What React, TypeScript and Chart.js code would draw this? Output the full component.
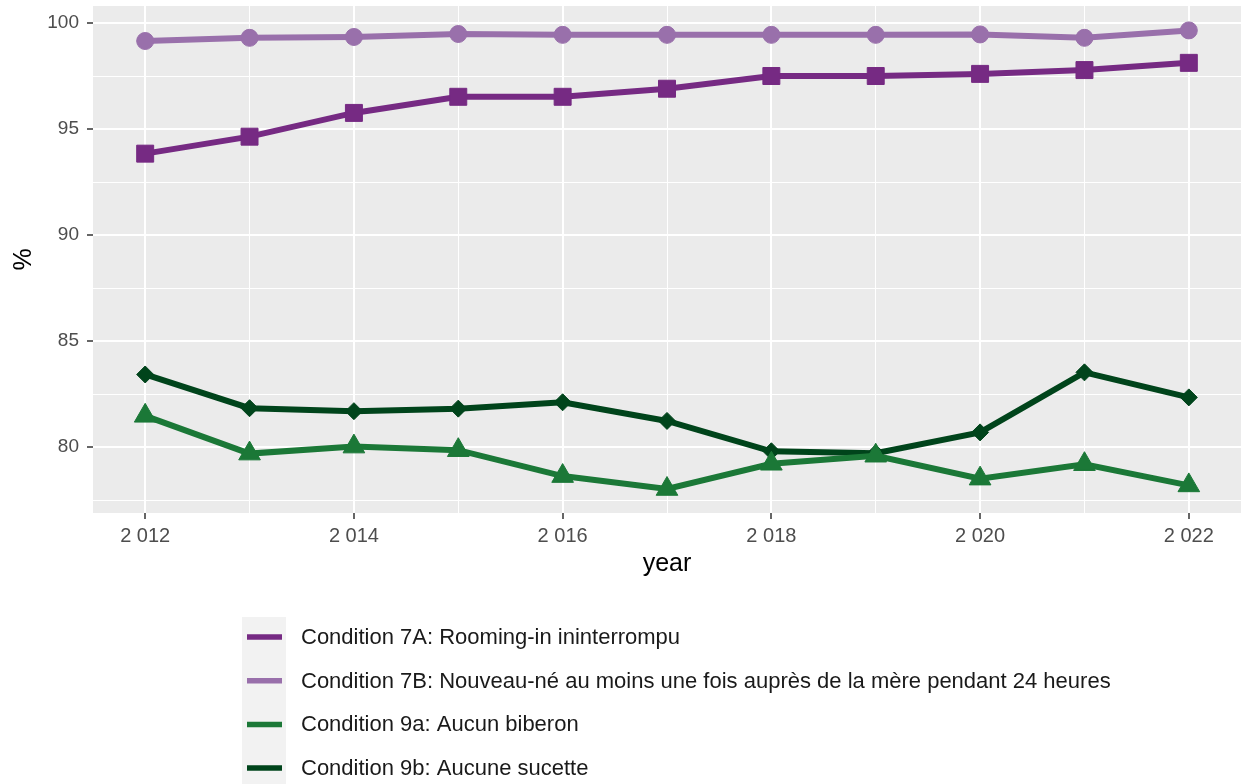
import React, { useEffect, useRef } from "react";
import { Chart, registerables } from "chart.js";

Chart.register(...registerables);

const years = [2012, 2013, 2014, 2015, 2016, 2017, 2018, 2019, 2020, 2021, 2022];
const cond7A = [93.84, 94.64, 95.76, 96.52, 96.52, 96.9, 97.5, 97.5, 97.6, 97.78, 98.12];
const cond7B = [99.15, 99.3, 99.34, 99.48, 99.44, 99.44, 99.44, 99.44, 99.46, 99.3, 99.65];
const cond9a = [81.48, 79.7, 80.03, 79.86, 78.64, 78.03, 79.22, 79.6, 78.52, 79.2, 78.2];
const cond9b = [83.43, 81.84, 81.7, 81.82, 82.12, 81.24, 79.81, 79.72, 80.7, 83.53, 82.35];
const labels = [
  "Condition 7A: Rooming-in ininterrompu",
  "Condition 7B: Nouveau-né au moins une fois auprès de la mère pendant 24 heures",
  "Condition 9a: Aucun biberon",
  "Condition 9b: Aucune sucette",
];
const colors = ["#762a83", "#9970ab", "#1b7837", "#00441b"];
const pointStyles = ["rect", "circle", "triangle", "rectRot"];
const pointRadii = [12, 8.5, 12.5, 8.5];
const yTicks = [77.5, 80, 82.5, 85, 87.5, 90, 92.5, 95, 97.5, 100];
const yMajor = [80, 85, 90, 95, 100];
const xTicks = [2012, 2013, 2014, 2015, 2016, 2017, 2018, 2019, 2020, 2021, 2022];
const xMajor = [2012, 2014, 2016, 2018, 2020, 2022];

const FONT = "'Liberation Sans', Arial, sans-serif";

const fmt = (v: number) => String(v).replace(/\B(?=(\d{3})+(?!\d))/g, " ");

const bgPlugin = {
  id: "panelBg",
  beforeDraw(chart: any) {
    const { ctx, chartArea } = chart;
    ctx.save();
    ctx.fillStyle = "#ebebeb";
    ctx.fillRect(chartArea.left, chartArea.top, chartArea.right - chartArea.left, chartArea.bottom - chartArea.top);
    ctx.restore();
  },
};

const legendPlugin = {
  id: "customLegend",
  afterDraw(chart: any) {
    const { ctx } = chart;
    const ds = chart.data.datasets;
    const keyX = 242;
    const keyW = 44;
    const top = 617;
    const rowH = 43.7;
    ctx.save();
    ctx.fillStyle = "#f2f2f2";
    ctx.fillRect(keyX, top, keyW, 784 - top);
    ds.forEach((d: any, i: number) => {
      const cy = top + 20 + i * rowH;
      ctx.strokeStyle = d.borderColor;
      ctx.lineWidth = 5.5;
      ctx.lineCap = "butt";
      ctx.beginPath();
      ctx.moveTo(keyX + 5, cy);
      ctx.lineTo(keyX + keyW - 4, cy);
      ctx.stroke();
      ctx.fillStyle = "#1a1a1a";
      ctx.font = `22px ${FONT}`;
      ctx.textBaseline = "middle";
      ctx.textAlign = "left";
      ctx.fillText(d.label, 301, cy + 1);
    });
    ctx.restore();
  },
};

export default function App() {
  const ref = useRef<HTMLCanvasElement>(null);
  useEffect(() => {
    document.body.style.margin = "0";
    const datasets = [cond7A, cond7B, cond9a, cond9b].map((vals, i) => ({
      label: labels[i],
      data: vals.map((v, j) => ({ x: years[j], y: v })),
      borderColor: colors[i],
      backgroundColor: colors[i],
      borderWidth: 6,
      pointStyle: pointStyles[i],
      pointRadius: pointRadii[i],
      pointBorderWidth: 1,
      pointBorderColor: colors[i],
      pointBackgroundColor: colors[i],
      tension: 0,
    }));
    const chart = new Chart(ref.current!, {
      type: "line",
      data: { datasets },
      plugins: [bgPlugin, legendPlugin],
      options: {
        animation: false,
        responsive: true,
        maintainAspectRatio: false,
        layout: { autoPadding: false, padding: { top: 6, bottom: 201, left: 0, right: 0 } },
        plugins: { legend: { display: false }, tooltip: { enabled: false } },
        scales: {
          x: {
            type: "linear",
            min: 2011.5,
            max: 2022.5,
            afterBuildTicks: (s: any) => {
              s.ticks = xTicks.map((v) => ({ value: v }));
            },
            afterFit: (s: any) => {
              s.height = 70;
              s.paddingLeft = 0;
              s.paddingRight = 0;
            },
            border: { display: false },
            grid: {
              color: "#ffffff",
              lineWidth: (c: any) => (xMajor.includes(c.tick?.value) ? 2 : 1),
              tickColor: (c: any) => (xMajor.includes(c.tick?.value) ? "#333333" : "rgba(0,0,0,0)"),
              tickLength: 6,
              tickWidth: 1.5,
            },
            ticks: {
              autoSkip: false,
              maxRotation: 0,
              padding: 5,
              color: "#4d4d4d",
              font: { family: FONT, size: 20 },
              callback: (v: any) => (xMajor.includes(v) ? fmt(v) : ""),
            },
            title: {
              display: true,
              text: "year",
              color: "#000000",
              font: { family: FONT, size: 25 },
              padding: { top: 0, bottom: 4 },
            },
          },
          y: {
            type: "linear",
            min: 76.9,
            max: 100.8,
            afterBuildTicks: (s: any) => {
              s.ticks = yTicks.map((v) => ({ value: v }));
            },
            afterFit: (s: any) => {
              s.width = 93;
              s.paddingTop = 0;
              s.paddingBottom = 0;
            },
            border: { display: false },
            grid: {
              color: "#ffffff",
              lineWidth: (c: any) => (yMajor.includes(c.tick?.value) ? 2 : 1),
              tickColor: (c: any) => (yMajor.includes(c.tick?.value) ? "#333333" : "rgba(0,0,0,0)"),
              tickLength: 6,
              tickWidth: 1.5,
            },
            ticks: {
              autoSkip: false,
              padding: 8,
              color: "#4d4d4d",
              font: { family: FONT, size: 19 },
              callback: (v: any) => (yMajor.includes(v) ? String(v) : ""),
            },
            title: {
              display: true,
              text: "%",
              color: "#000000",
              font: { family: FONT, size: 25 },
              padding: { top: 9, bottom: 0 },
            },
          },
        },
      },
    });
    return () => chart.destroy();
  }, []);
  return (
    <div style={{ position: "relative", width: 1241, height: 784 }}>
      <canvas ref={ref} />
    </div>
  );
}
